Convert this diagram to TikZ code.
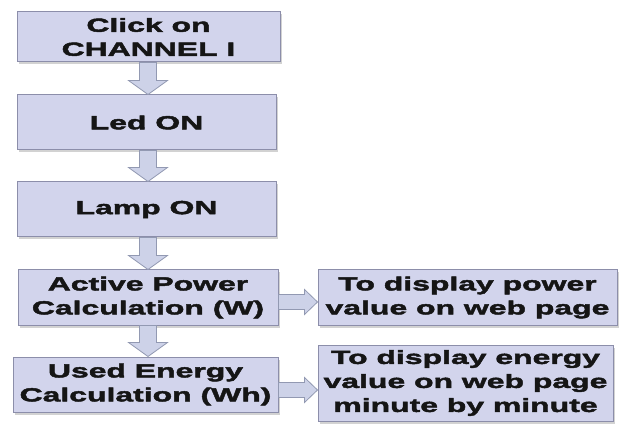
\documentclass[tikz,border=0pt]{standalone}
\usepackage{fontspec}
\newfontfamily\boxfont{Liberation Sans Bold}[FakeStretch=1.68, FakeBold=2.4]
\usetikzlibrary{calc,shadows}
\definecolor{boxfill}{HTML}{D2D4EC}
\definecolor{boxline}{HTML}{8C8EAA}
\definecolor{arrfill}{HTML}{CDD2E8}
\definecolor{arrline}{HTML}{9299B2}
\definecolor{txt}{HTML}{151515}
\tikzset{
  flowbox/.style={draw=boxline, line width=1pt, fill=boxfill, inner sep=0pt,
    align=center, text=txt, font=\boxfont\fontsize{19}{24}\selectfont,
    drop shadow={opacity=0.35, shadow xshift=1.5pt, shadow yshift=-2.5pt}},
  blockarrow/.style={draw=arrline, line width=0.8pt, fill=arrfill, line join=miter}
}
\newcommand\vblock[2]{%
  \path let \p1=(#1.south), \p2=(#2.north) in
    [blockarrow] (148pt-8.5pt,\y1) -- (148pt+8.5pt,\y1) -- (148pt+8.5pt,\y2+14pt)
    -- (148pt+19.5pt,\y2+14pt) -- (148pt,\y2) -- (148pt-19.5pt,\y2+14pt)
    -- (148pt-8.5pt,\y2+14pt) -- cycle;}
\newcommand\hblock[3]{%
  \path let \p1=(#1.east), \p2=(#2.west) in
    [blockarrow] (\x1,#3pt+7.5pt) -- (\x2-13pt,#3pt+7.5pt) -- (\x2-13pt,#3pt+12.5pt)
    -- (\x2,#3pt) -- (\x2-13pt,#3pt-12.5pt) -- (\x2-13pt,#3pt-7.5pt)
    -- (\x1,#3pt-7.5pt) -- cycle;}
\begin{document}
\begin{tikzpicture}[x=1pt,y=1pt]
\useasboundingbox[fill=white] (0,0) rectangle (631,423);
\node[flowbox, minimum width=263pt, minimum height=50pt] (b1) at (148.5,386) {Click on\\CHANNEL I};
\node[flowbox, minimum width=259pt, minimum height=55pt] (b2) at (146.5,300.5) {Led ON};
\node[flowbox, minimum width=259pt, minimum height=55pt] (b3) at (146.5,213.5) {Lamp ON};
\node[flowbox, minimum width=260pt, minimum height=55pt] (b4) at (148,125.5) {Active Power\\Calculation (W)};
\node[flowbox, minimum width=265pt, minimum height=55pt] (b5) at (145.5,38.5) {Used Energy\\Calculation (Wh)};
\node[flowbox, minimum width=299pt, minimum height=55pt] (r1) at (467.5,125.5) {To display power\\value on web page};
\node[flowbox, minimum width=295pt, minimum height=76pt] (r2) at (465.5,40) {To display energy\\value on web page\\minute by minute};
\vblock{b1}{b2}
\vblock{b2}{b3}
\vblock{b3}{b4}
\vblock{b4}{b5}
\hblock{b4}{r1}{121}
\hblock{b5}{r2}{33}
\end{tikzpicture}
\end{document}
